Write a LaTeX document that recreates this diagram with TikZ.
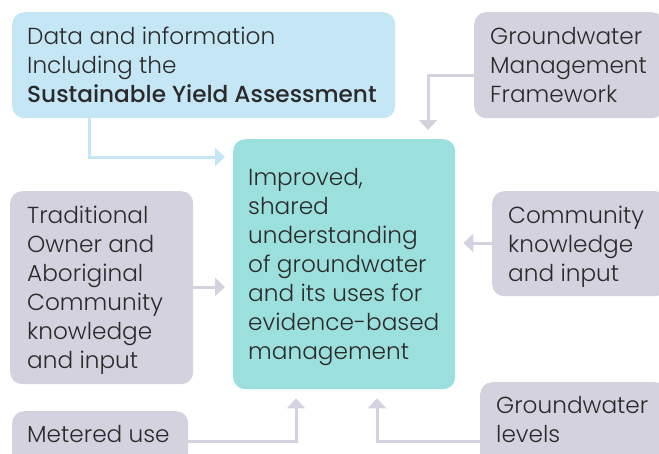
\documentclass[tikz,border=0pt]{standalone}
\usepackage{fontspec}
\setmainfont{Poppins}[UprightFont=* Light, BoldFont=* Medium]
\usetikzlibrary{arrows.meta}
\definecolor{lblue}{HTML}{C5E6F5}
\definecolor{lgray}{HTML}{D4D2DE}
\definecolor{teal}{HTML}{9BE0DC}
\definecolor{txt}{HTML}{2A2A2A}
\tikzset{
  box/.style={rectangle, rounded corners=12pt, draw=none, inner sep=0pt, anchor=north west},
  lbl/.style={anchor=base west, inner sep=0pt, align=left, text=txt,
    font=\fontsize{23.2}{28.9}\selectfont},
  arr/.style={line width=3pt, -{Triangle[width=18pt,length=10pt]}},
}
\begin{document}
\begin{tikzpicture}[x=1pt,y=-1pt]
\useasboundingbox (0,0) rectangle (659,453);
% boxes
\node[box, fill=lblue, minimum width=383pt, minimum height=106pt] (data) at (12,12) {};
\node[box, fill=lgray, minimum width=190pt, minimum height=106pt] (gmf) at (474,12) {};
\node[box, fill=teal, minimum width=222pt, minimum height=250pt] (ctr) at (233,139) {};
\node[box, fill=lgray, minimum width=183pt, minimum height=193pt] (trad) at (10,191) {};
\node[box, fill=lgray, minimum width=175pt, minimum height=105pt] (comm) at (492,191) {};
\node[box, fill=lgray, minimum width=176pt, minimum height=60pt] (met) at (12,411) {};
\node[box, fill=lgray, minimum width=187pt, minimum height=90pt] (gwl) at (480,382) {};
% texts (anchored at the baseline of the last line)
\node[lbl] (tdata) at (27,102) {Data and information\\Including the\\\textbf{Sustainable Yield Assessment}};
\node[lbl] (tgmf) at (490,102) {Groundwater\\Management\\Framework};
\node[lbl] (tctr) at (248,359) {Improved,\\shared\\understanding\\of groundwater\\and its uses for\\evidence-based\\management};
\node[lbl] (ttrad) at (27,368) {Traditional\\Owner and\\Aboriginal\\Community\\knowledge\\and input};
\node[lbl] (tcomm) at (508,281) {Community\\knowledge\\and input};
\node[lbl] (tmet) at (27,442) {Metered use};
\node[lbl] (tgwl) at (496,442) {Groundwater\\levels};
% connector points
\coordinate (dataout) at ([xshift=77pt]data.south west);
\coordinate (datain) at ([xshift=-8pt,yshift=-18pt]ctr.north west);
\coordinate (gmfout) at ([yshift=-63pt]gmf.north west);
\coordinate (gmfin) at ([xshift=195pt,yshift=9pt]ctr.north west);
\coordinate (tradout) at ([yshift=-96pt]trad.north east);
\coordinate (commout) at ([yshift=-52pt]comm.north west);
\coordinate (metout) at ([yshift=-30pt]met.north east);
\coordinate (metin) at ([xshift=63pt,yshift=-9pt]ctr.south west);
\coordinate (gwlout) at ([yshift=-59pt]gwl.north west);
\coordinate (gwlin) at ([xshift=144pt,yshift=-9pt]ctr.south west);
\coordinate (tradin) at ([xshift=-8pt]ctr.west |- tradout);
\coordinate (commin) at ([xshift=8pt]ctr.east |- commout);
% connectors
\draw[arr, lblue] (dataout) |- (datain);
\draw[arr, lgray] (gmfout) -| (gmfin);
\draw[arr, lgray] (tradout) -- (tradin);
\draw[arr, lgray] (commout) -- (commin);
\draw[arr, lgray] (metout) -| (metin);
\draw[arr, lgray] (gwlout) -| (gwlin);
\end{tikzpicture}
\end{document}
